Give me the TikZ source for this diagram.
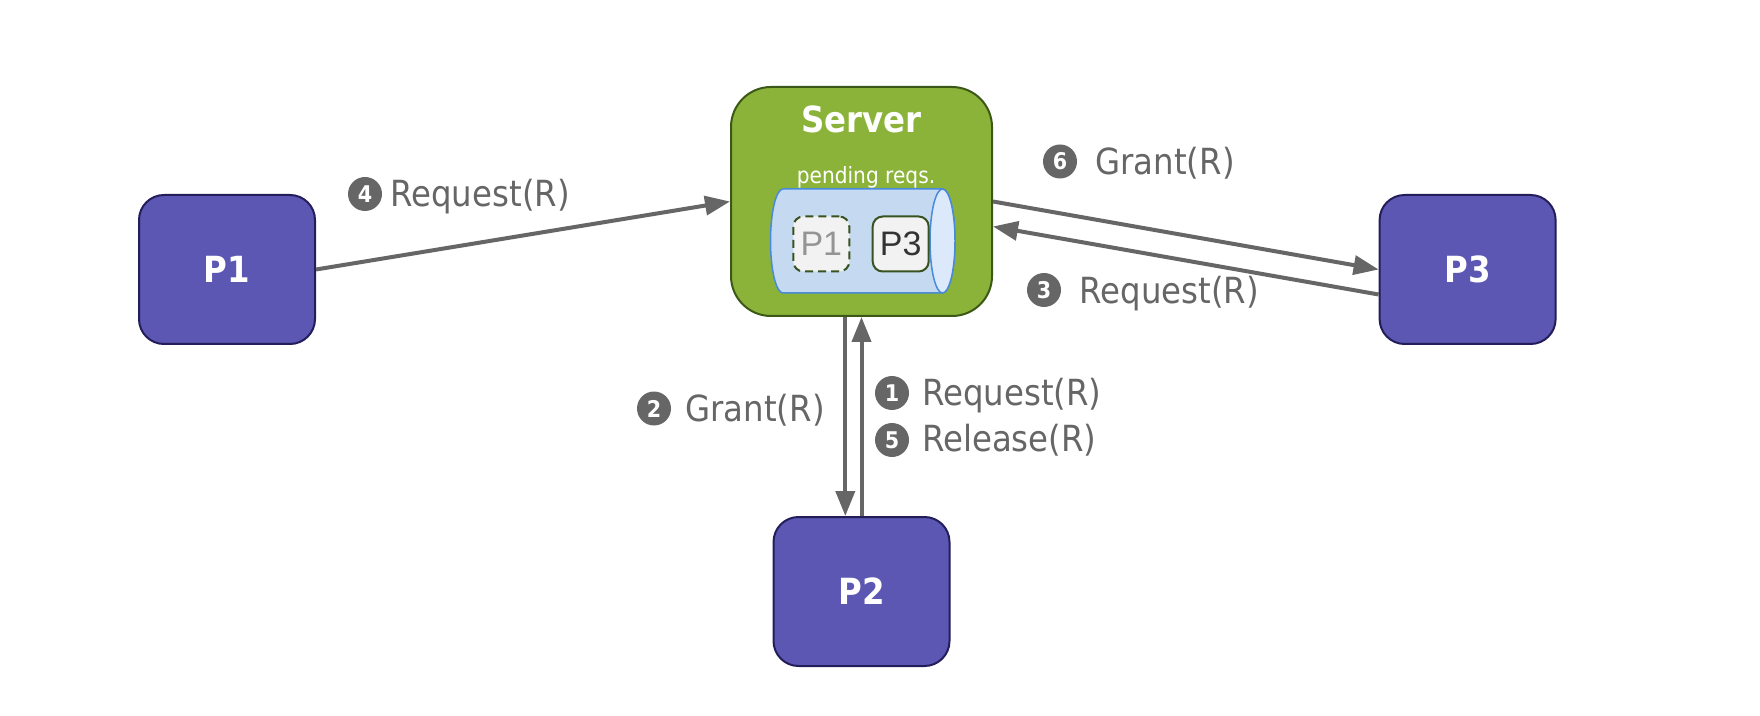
\documentclass[tikz,border=0pt]{standalone}
\usepackage{fontspec}
\setmainfont{DejaVu Sans}[FakeStretch=0.9]
\newfontfamily\slotfont{Liberation Sans}
\usetikzlibrary{positioning,arrows.meta}

\definecolor{procblue}{RGB}{91,87,179}
\definecolor{procedge}{RGB}{35,30,90}
\definecolor{srvgreen}{RGB}{139,179,57}
\definecolor{srvedge}{RGB}{60,88,22}
\definecolor{queuefill}{RGB}{197,217,241}
\definecolor{queueend}{RGB}{219,233,250}
\definecolor{queueedge}{RGB}{74,138,219}
\definecolor{slotfill}{RGB}{242,242,242}
\definecolor{slotedge}{RGB}{56,82,32}
\definecolor{msggray}{RGB}{102,102,102}

\begin{document}
\begin{tikzpicture}[x=0.5pt,y=-0.5pt,
  >={Triangle[length=12.5pt,width=9.5pt]},
  procbox/.style={draw=procedge,line width=1pt,fill=procblue,rounded corners=12.5pt,
    minimum width=88pt,minimum height=74.5pt,text=white,font=\fontsize{18pt}{20pt}\selectfont\bfseries},
  srvbox/.style={draw=srvedge,line width=1pt,fill=srvgreen,rounded corners=20pt,
    minimum width=130.5pt,minimum height=114.5pt},
  slot/.style={draw=slotedge,line width=1pt,fill=slotfill,rounded corners=5pt,inner sep=0pt,
    minimum width=28pt,minimum height=27.5pt,font=\slotfont\fontsize{17pt}{20pt}\selectfont},
  msg/.style={draw=msggray,line width=2pt},
  msglabel/.style={text=msggray,inner sep=0pt,font=\fontsize{18pt}{21pt}\selectfont},
  badge/.style={circle,fill=msggray,text=white,inner sep=0pt,minimum size=17pt,
    font=\fontsize{11.5pt}{12pt}\selectfont\bfseries}]
\useasboundingbox (0,0) rectangle (1760,716);

% server and processes
\node[srvbox] (srv) at (861.5,201.5) {};
\node[procbox,left=207pt of srv,yshift=-34pt] (p1) {P1};
\node[procbox,right=192.8pt of srv,yshift=-34pt] (p3) {P3};
\node[procbox,below=99.5pt of srv] (p2) {P2};

\node[anchor=base,text=white,inner sep=0pt,font=\fontsize{18pt}{20pt}\selectfont\bfseries] (srvname) at (861.5,133) {Server};
\node[anchor=base,text=white,inner sep=0pt,font=\fontsize{11.2pt}{13pt}\selectfont] (qname) at (866,184) {pending reqs.};

% queue of pending requests
\filldraw[fill=queuefill,draw=queueedge,line width=0.75pt] (783,189) -- (942.5,189)
  arc[start angle=90,end angle=-90,x radius=6.25pt,y radius=26pt] -- (783,293)
  arc[start angle=270,end angle=90,x radius=6.25pt,y radius=26pt] -- cycle;
\filldraw[fill=queueend,draw=queueedge,line width=0.75pt] (942.5,241) ellipse[x radius=6.25pt,y radius=26pt];
\node[slot,dashed,dash pattern=on 4pt off 2.5pt,text=black!42] (q1) at (821.3,244) {P1};
\node[slot,right=10.7pt of q1,text=black!80] (q3) {P3};

% messages
\draw[msg,->] (p1.east) -- (srv.west);
\draw[msg,->] (srv.east) -- (p3.west);
\draw[msg,->] ([yshift=-12.5pt]p3.west) -- ([yshift=-12.5pt]srv.east);
\draw[msg,->] ([xshift=-8.1pt]srv.south) -- ([xshift=-8.1pt]p2.north);
\draw[msg,->] (p2.north) -- (srv.south);

\node[badge] (b4) at (365,194) {4};
\node[msglabel,anchor=base west] (l4) at (390,206.7) {Request(R)};
\node[badge] (b6) at (1060,161.5) {6};
\node[msglabel,anchor=base west] (l6) at (1095,175) {Grant(R)};
\node[badge] (b3) at (1044,290) {3};
\node[msglabel,anchor=base west] (l3) at (1079.3,304) {Request(R)};
\node[badge] (b2) at (654,408.5) {2};
\node[msglabel,anchor=base west] (l2) at (685,421.7) {Grant(R)};
\node[badge] (b1) at (892,393) {1};
\node[msglabel,anchor=base west] (l1) at (921.7,405) {Request(R)};
\node[badge] (b5) at (892,440) {5};
\node[msglabel,anchor=base west] (l5) at (921.7,451.7) {Release(R)};
\end{tikzpicture}
\end{document}
